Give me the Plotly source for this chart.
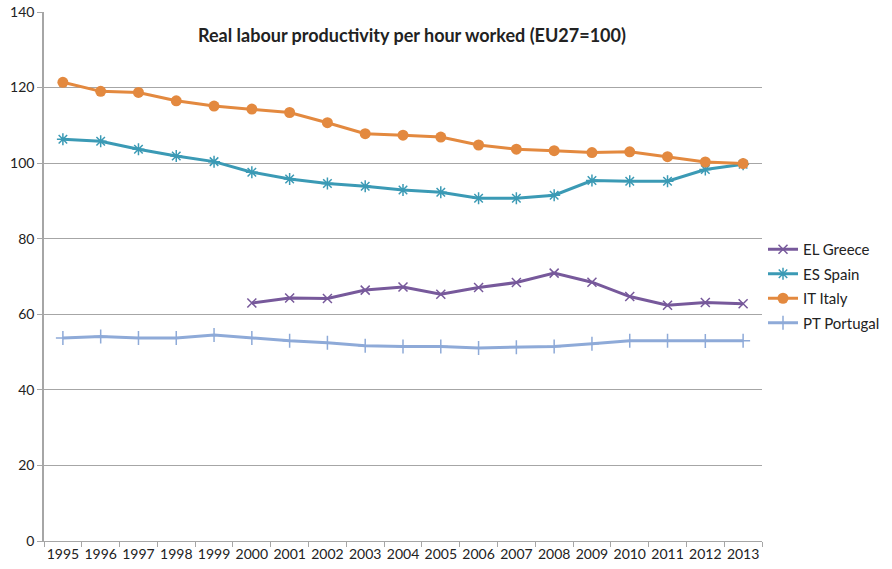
import plotly.graph_objects as go

years = [str(y) for y in range(1995, 2014)]
greece = [None]*5 + [63.0, 64.3, 64.2, 66.4, 67.2, 65.3, 67.1, 68.4, 70.9, 68.5, 64.7, 62.4, 63.1, 62.8]
spain = [106.3, 105.8, 103.7, 101.9, 100.4, 97.6, 95.8, 94.6, 93.9, 92.9, 92.3, 90.7, 90.7, 91.5, 95.4, 95.2, 95.2, 98.3, 99.7]
italy = [121.4, 119.0, 118.7, 116.5, 115.1, 114.3, 113.4, 110.7, 107.8, 107.4, 106.9, 104.8, 103.7, 103.3, 102.8, 103.0, 101.7, 100.3, 99.9]
portugal = [53.7, 54.1, 53.7, 53.7, 54.5, 53.7, 53.0, 52.5, 51.7, 51.5, 51.5, 51.1, 51.3, 51.5, 52.2, 53.0, 53.0, 52.9, 53.0]

fig = go.Figure()
fig.add_trace(go.Scatter(x=years, y=greece, name="EL Greece", mode="lines+markers", legendgroup="g",
                         line=dict(color="#77599b", width=3),
                         marker=dict(symbol="x-thin-open", size=9, line=dict(color="#77599b", width=1.5))))
fig.add_trace(go.Scatter(x=years, y=spain, name="ES Spain", mode="lines+markers", legendgroup="s",
                         line=dict(color="#3b9ab5", width=3),
                         marker=dict(symbol="asterisk-open", size=10, line=dict(color="#3b9ab5", width=1.5))))
fig.add_trace(go.Scatter(x=years, y=italy, name="IT Italy", mode="lines+markers", legendgroup="i",
                         line=dict(color="#e3893f", width=3),
                         marker=dict(symbol="circle", size=11, color="#e3893f")))
fig.add_trace(go.Scatter(x=years, y=portugal, name="PT Portugal", mode="lines+markers", legendgroup="p",
                         line=dict(color="#8eaad8", width=3),
                         marker=dict(symbol="cross-thin-open", size=10, line=dict(color="#8eaad8", width=1.5))))

L, R, T, B = 44, 130, 12, 28
W, H = 892, 569
pw, ph = W - L - R, H - T - B

fig.update_layout(
    width=W, height=H,
    margin=dict(l=L, r=R, t=T, b=B, autoexpand=False),
    plot_bgcolor="white", paper_bgcolor="white",
    font=dict(family="Lato, Open Sans, sans-serif", size=14, color="#222222"),
    showlegend=True,
    legend=dict(x=(763 - L) / pw, y=(H - B - 233) / ph, xanchor="left", yanchor="top",
                font=dict(size=15), tracegroupgap=2, itemwidth=30),
    xaxis=dict(type="category", range=[-0.5, 18.5], showgrid=False,
               showline=True, linecolor="#a6a6a6", linewidth=1,
               ticks="outside", tickson="boundaries", ticklen=5, tickcolor="#a6a6a6",
               tickangle=0, tickfont=dict(size=14)),
    yaxis=dict(range=[0, 140], dtick=20, showgrid=True, gridcolor="#a6a6a6", gridwidth=1,
               showline=True, linecolor="#a6a6a6", linewidth=1.5,
               ticks="outside", ticklen=5, tickcolor="#a6a6a6", zeroline=False,
               tickfont=dict(size=14)),
    annotations=[dict(text="<b>Real labour productivity per hour worked (EU27=100)</b>",
                      x=(412 - L) / pw, y=(H - B - 35) / ph, xref="paper", yref="paper",
                      xanchor="center", yanchor="middle",
                      showarrow=False, font=dict(size=18))],
)
fig.write_html("out.html")
